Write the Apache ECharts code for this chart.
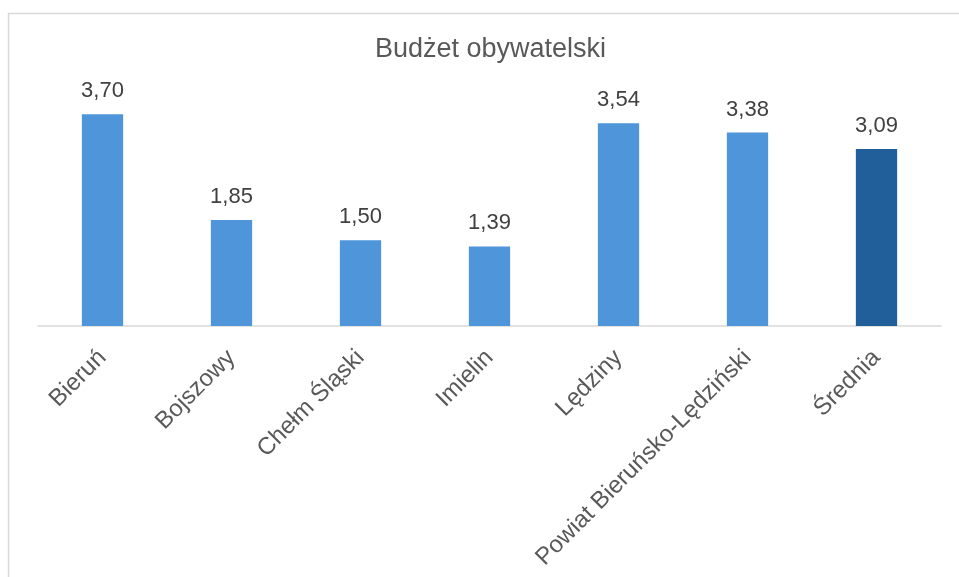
<!DOCTYPE html>
<html><head><meta charset="utf-8">
<script src="https://cdn.jsdelivr.net/npm/echarts@6/dist/echarts.min.js"></script>
<style>html,body{margin:0;padding:0;background:#fff}#c{width:959px;height:577px}</style>
</head><body><div id="c"></div>
<script>
const categories = ['Bieruń','Bojszowy','Chełm Śląski','Imielin','Lędziny','Powiat Bieruńsko-Lędziński','Średnia'];
const values = [3.70, 1.85, 1.50, 1.39, 3.54, 3.38, 3.09];
const titleText = 'Budżet obywatelski';
const chart = echarts.init(document.getElementById('c'), null, {renderer:'canvas'});
const FONT = '"Liberation Sans", Arial, sans-serif';
chart.setOption({
  animation:false,
  backgroundColor:'#fff',
  graphic:[{type:'rect', shape:{x:8.5,y:13.5,width:1000,height:700}, style:{fill:'none', stroke:'#d9d9d9', lineWidth:1.5}, silent:true}],
  title:{text:titleText, left:375, top:36, padding:0, textStyle:{fontFamily:FONT, fontSize:27, fontWeight:'normal', color:'#595959'}},
  grid:{left:38, right:18, top:97, bottom:251, containLabel:false},
  xAxis:{type:'category', data:categories,
    axisLine:{lineStyle:{color:'#d9d9d9', width:1.5}}, axisTick:{show:false},
    axisLabel:{rotate:45, interval:0, margin:28, fontFamily:FONT, fontSize:24, color:'#595959'}},
  yAxis:{type:'value', min:0, max:4, show:false, splitLine:{show:false}},
  series:[{type:'bar', barWidth:'32%',
    data: values.map((v,i)=>({value:v, itemStyle:{color: i===values.length-1 ? '#215F9A' : '#4E95D9'}})),
    label:{show:true, position:'top', distance:12, fontFamily:FONT, fontSize:22, color:'#404040',
      formatter:p=>p.value.toFixed(2).replace('.',',')}}]
});
</script></body></html>
